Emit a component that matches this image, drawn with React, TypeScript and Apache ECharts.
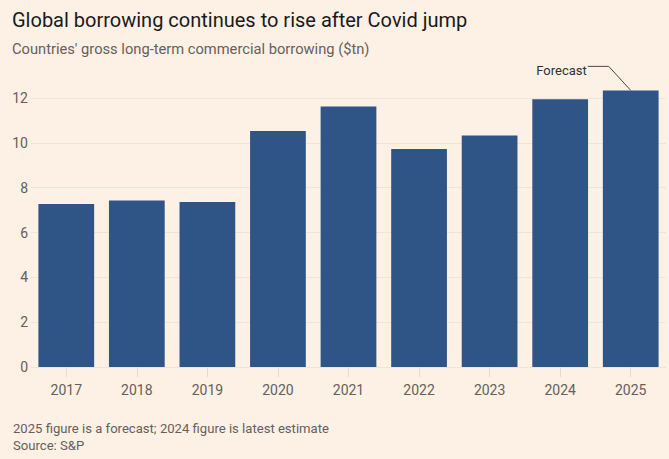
import React, { useEffect, useRef } from "react";
import * as echarts from "echarts";

const years = ["2017", "2018", "2019", "2020", "2021", "2022", "2023", "2024", "2025"];
const borrowing = [7.27, 7.43, 7.36, 10.53, 11.62, 9.72, 10.33, 11.94, 12.34];
const yTicks = { min: 0, max: 12, interval: 2 };

const titleText = "Global borrowing continues to rise after Covid jump";
const subtitleText = "Countries' gross long-term commercial borrowing ($tn)";
const noteText = "2025 figure is a forecast; 2024 figure is latest estimate";
const sourceText = "Source: S&P";
const forecastLabel = "Forecast";

const FONT = "Roboto, 'Noto Sans', sans-serif";

export default function App() {
  const ref = useRef<HTMLDivElement>(null);
  useEffect(() => {
    if (!ref.current) return;
    const chart = echarts.init(ref.current, null, { renderer: "svg" });
    chart.setOption({
      animation: false,
      backgroundColor: "#fdf0e5",
      textStyle: { fontFamily: FONT },
      title: [
        {
          text: titleText,
          left: 7,
          top: 5,
          textStyle: { fontFamily: FONT, fontSize: 20, fontWeight: "normal", color: "#1a1a1a" },
        },
        {
          text: subtitleText,
          left: 7,
          top: 36,
          textStyle: { fontFamily: FONT, fontSize: 14.7, fontWeight: "normal", color: "#66605c" },
        },
        {
          text: noteText,
          left: 8,
          top: 417,
          textStyle: { fontFamily: FONT, fontSize: 13.1, fontWeight: "normal", color: "#66605c" },
        },
        {
          text: sourceText,
          left: 8,
          top: 434,
          textStyle: { fontFamily: FONT, fontSize: 13.1, fontWeight: "normal", color: "#66605c" },
        },
      ],
      grid: { left: 31, right: 3, top: 98, bottom: 92, containLabel: false },
      xAxis: {
        type: "category",
        data: years,
        axisLine: { show: false },
        axisTick: { show: true, alignWithLabel: true, length: 10, lineStyle: { color: "#e8dacd" } },
        axisLabel: { color: "#66605c", fontSize: 14, margin: 16, fontFamily: FONT },
      },
      yAxis: {
        type: "value",
        min: yTicks.min,
        max: yTicks.max,
        interval: yTicks.interval,
        axisLine: { show: false },
        axisTick: { show: false },
        axisLabel: { color: "#66605c", fontSize: 14, margin: 3, fontFamily: FONT },
        splitLine: { lineStyle: { color: "#f1e3d6", width: 1 } },
      },
      series: [
        {
          type: "bar",
          data: borrowing,
          barCategoryGap: "21%",
          clip: false,
          itemStyle: { color: "#2f5486" },
        },
      ],
    });
    const last = borrowing.length - 1;
    const p = chart.convertToPixel({ seriesIndex: 0 }, [last, borrowing[last]]) as number[];
    if (p) {
      const cx = p[0];
      const top = p[1];
      chart.setOption({
        graphic: [
          {
            type: "polyline",
            shape: { points: [[cx - 43, top - 24], [cx - 22, top - 24], [cx, top]] },
            style: { stroke: "#4d4845", lineWidth: 1, fill: null },
            silent: true,
          },
          {
            type: "text",
            x: cx - 44,
            y: top - 20,
            style: {
              text: forecastLabel,
              fill: "#33302e",
              font: `13px ${FONT}`,
              textAlign: "right",
              textVerticalAlign: "middle",
            },
            silent: true,
          },
        ],
      });
    }
    return () => chart.dispose();
  }, []);
  return (
    <div
      ref={ref}
      style={{ position: "fixed", left: 0, top: 0, width: 669, height: 459 }}
    />
  );
}
